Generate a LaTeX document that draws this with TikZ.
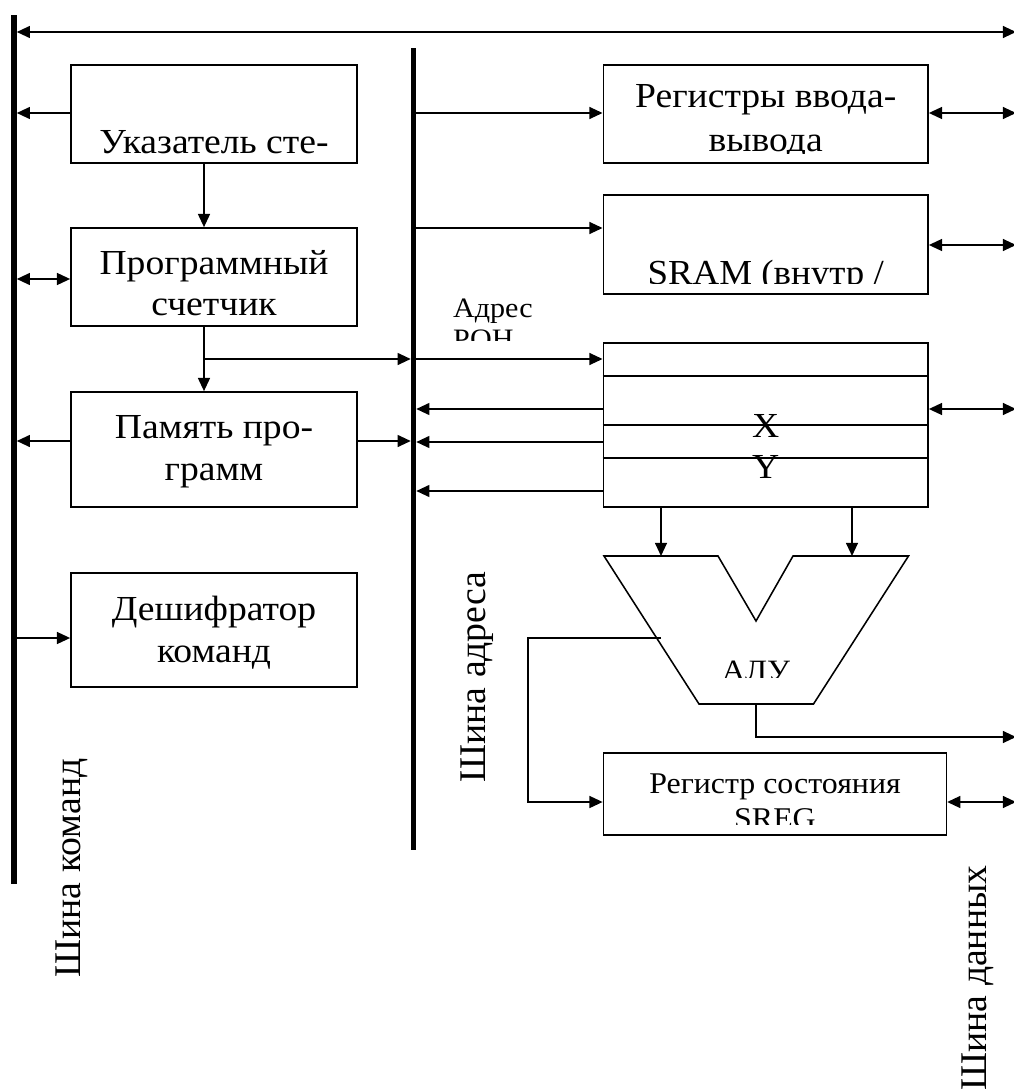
\documentclass[tikz,border=0pt]{standalone}
\usepackage{fontspec}
\setmainfont{Liberation Serif}
\usetikzlibrary{arrows.meta}
\newcommand{\sxw}[2][1.07]{\scalebox{#1}[1]{#2}}
\begin{document}
\begin{tikzpicture}[x=0.025cm,y=-0.025cm,
  box/.style={draw, line width=1.2pt, inner sep=0pt},
  bus/.style={fill=black, inner sep=0pt, minimum width=0.125cm},
  conn/.style={line width=1.1pt, -{Triangle[length=0.33cm,width=0.3cm]}},
  dconn/.style={line width=1.1pt, {Triangle[length=0.33cm,width=0.3cm]}-{Triangle[length=0.33cm,width=0.3cm]}},
  plain/.style={line width=1.1pt},
  txt/.style={font=\fontsize{25}{29}\selectfont, inner sep=0pt, anchor=base},
  smalltxt/.style={font=\fontsize{21.4}{25}\selectfont, inner sep=0pt, anchor=base},
  tinytxt/.style={font=\fontsize{20}{23}\selectfont, inner sep=0pt, anchor=base west},
  alutxt/.style={font=\fontsize{21}{24}\selectfont, inner sep=0pt, anchor=base},
  buslabel/.style={font=\fontsize{26.8}{30}\selectfont, inner sep=0pt, rotate=90}]
\useasboundingbox (0,0) rectangle (1013,1090);

% buses
\node[bus, minimum height=21.725cm] (cmdbus) at (14,449.5) {};
\node[bus, minimum height=20.05cm] (addrbus) at (413.5,449) {};
\coordinate (topR) at (1016,32);

% left boxes
\node[box, minimum width=7.15cm, minimum height=2.45cm] (sp) at (214,114) {};
\node[box, minimum width=7.15cm, minimum height=2.45cm] (pc) at (214,277) {};
\node[box, minimum width=7.15cm, minimum height=2.875cm] (pm) at (214,449.5) {};
\node[box, minimum width=7.15cm, minimum height=2.85cm] (dec) at (214,630) {};

% right boxes
\node[box, minimum width=8.115cm, minimum height=2.45cm] (io) at (765.7,114) {};
\node[box, minimum width=8.115cm, minimum height=2.475cm] (sram) at (765.7,244.5) {};
\node[box, minimum width=8.115cm, minimum height=4.1cm] (rf) at (765.7,425) {};
\node[box, minimum width=8.57cm, minimum height=2.05cm] (sreg) at (774.9,794) {};

% register file lines
\draw[plain] (rf.west |- 0,376) -- (rf.east |- 0,376);
\draw[plain] (rf.west |- 0,425) -- (rf.east |- 0,425);
\draw[plain] (rf.west |- 0,458) -- (rf.east |- 0,458);

% ALU
\coordinate (a1) at (604,556);
\coordinate (a2) at (718,556);
\coordinate (a3) at (756,621);
\coordinate (a4) at (793,556);
\coordinate (a5) at (908.5,556);
\coordinate (a6) at (813.5,704);
\coordinate (a7) at (699,704);
\draw[plain, line join=miter] (a1) -- (a2) -- (a3) -- (a4) -- (a5) -- (a6) -- (a7) -- cycle;
\coordinate (aluinL) at (661,556);
\coordinate (aluinR) at (852,556);
\coordinate (aluout) at (756,704);

% texts
\node[txt] (sp-t) at (214,153) {\sxw{Указатель сте-}};
\node[txt] (pc-t1) at (214,274) {\sxw{Программный}};
\node[txt] (pc-t2) at (214,315) {\sxw{счетчик}};
\node[txt] (pm-t1) at (214,438) {\sxw{Память про-}};
\node[txt] (pm-t2) at (214,480) {\sxw{грамм}};
\node[txt] (dec-t1) at (214,620) {\sxw{Дешифратор}};
\node[txt] (dec-t2) at (214,662) {\sxw{команд}};

\node[txt] (io-t1) at (765.7,108) {\sxw{Регистры ввода-}};
\begin{scope}
  \clip (606,120) rectangle (926,154);
  \node[txt] (io-t2) at (765.7,152) {\sxw{вывода}};
\end{scope}
\begin{scope}
  \clip (606,200) rectangle (926,283);
  \node[txt] (sram-t) at (765.7,284) {\sxw[1.05]{SRAM (внутр /}};
\end{scope}
\begin{scope}
  \clip (440,290) rectangle (590,340);
  \node[tinytxt] (adr-t1) at (452.8,317) {\sxw{Адрес}};
  \node[tinytxt] (adr-t2) at (452.8,348) {\sxw{РОН}};
\end{scope}
\node[txt] (x-t) at (765.7,437) {\sxw{X}};
\node[txt] (y-t) at (765.7,478) {\sxw{Y}};
\begin{scope}
  \clip (700,640) rectangle (815,677);
  \node[alutxt] (alu-t) at (756,680) {\sxw[1.1]{АЛУ}};
\end{scope}
\node[smalltxt] (sreg-t1) at (775,793) {\sxw[1.06]{Регистр состояния}};
\begin{scope}
  \clip (606,800) rectangle (944,824);
  \node[smalltxt] (sreg-t2) at (775,828) {\sxw[1.06]{SREG}};
\end{scope}

\node[buslabel] (lbl-cmd) at (72,868) {Шина команд};
\node[buslabel] (lbl-adr) at (477,677) {Шина адреса};
\node[buslabel] (lbl-dat) at (978,978) {Шина данных};

% connectors: command bus side
\draw[dconn] (cmdbus.east |- topR) -- (topR);
\draw[conn] (sp.west |- 0,113) -- (cmdbus.east |- 0,113);
\draw[conn] (sp.south -| 204,0) -- (pc.north -| 204,0);
\draw[dconn] (cmdbus.east |- 0,279) -- (pc.west |- 0,279);
\coordinate (j1) at (204,359);
\draw[conn] (pc.south -| j1) -- (j1) -- (pm.north -| j1);
\draw[conn] (j1) -- (addrbus.west |- j1);
\draw[conn] (pm.west |- 0,441) -- (cmdbus.east |- 0,441);
\draw[conn] (pm.east |- 0,441) -- (addrbus.west |- 0,441);
\draw[conn] (cmdbus.east |- 0,638) -- (dec.west |- 0,638);

% address bus side
\draw[conn] (addrbus.east |- 0,113) -- (io.west |- 0,113);
\draw[conn] (addrbus.east |- 0,228) -- (sram.west |- 0,228);
\draw[conn] (addrbus.east |- j1) -- (rf.west |- j1);
\draw[conn] (rf.west |- 0,409) -- (addrbus.east |- 0,409);
\draw[conn] (rf.west |- 0,442) -- (addrbus.east |- 0,442);
\draw[conn] (rf.west |- 0,491) -- (addrbus.east |- 0,491);

% data bus side
\draw[dconn] (io.east |- 0,113) -- (topR |- 0,113);
\draw[dconn] (sram.east |- 0,245) -- (topR |- 0,245);
\draw[dconn] (rf.east |- 0,409) -- (topR |- 0,409);
\draw[dconn] (sreg.east |- 0,802) -- (topR |- 0,802);

% ALU connections
\draw[conn] (rf.south -| aluinL) -- (aluinL);
\draw[conn] (rf.south -| aluinR) -- (aluinR);
\draw[conn] (661,638) -- (528,638) -- (528,802) -- (sreg.west |- 0,802);
\draw[conn] (aluout) -- (756,737) -- (topR |- 0,737);
\end{tikzpicture}
\end{document}
